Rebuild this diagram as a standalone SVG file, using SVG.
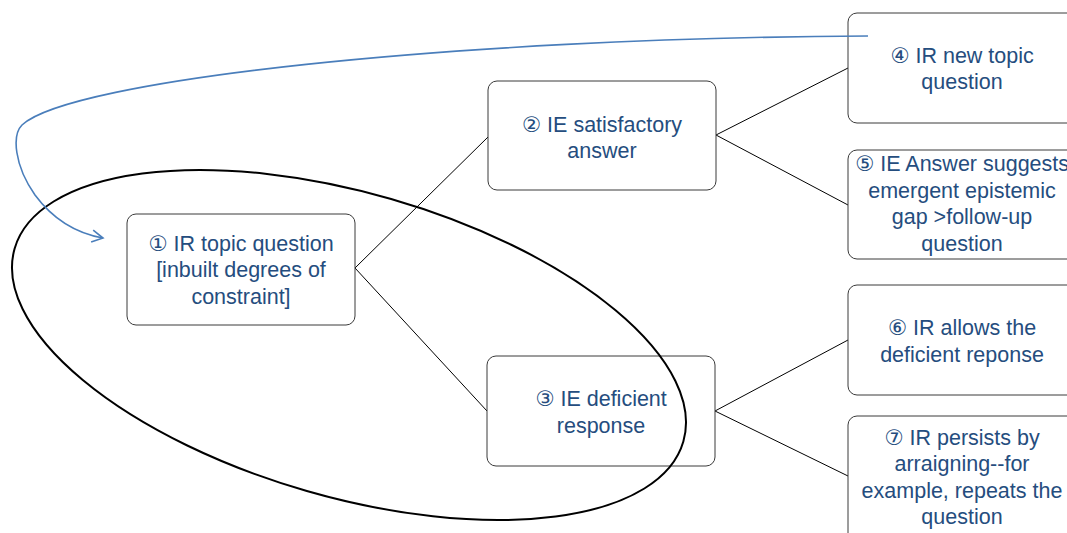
<svg xmlns="http://www.w3.org/2000/svg" width="1067" height="533" viewBox="0 0 1067 533">
<style>
.box{fill:#fff;stroke:#3a3a3a;stroke-width:1}
.t{font-family:"Liberation Sans","DejaVu Sans",sans-serif;font-size:21.5px;fill:#254d7e;text-anchor:middle}
.c{stroke:#000;stroke-width:1;fill:none}
</style>
<defs>
<marker id="open" markerWidth="14" markerHeight="14" refX="12" refY="7" orient="auto" markerUnits="userSpaceOnUse">
<path d="M1,1 L12,7 L1,13" fill="none" stroke="#4a7ebb" stroke-width="1.6"/>
</marker>
</defs>
<rect width="1067" height="533" fill="#fff"/>
<g id="connectors">
<line class="c" x1="355" y1="268" x2="488" y2="137"/>
<line class="c" x1="355" y1="268" x2="487" y2="411"/>
<line class="c" x1="716" y1="135" x2="848" y2="68"/>
<line class="c" x1="716" y1="135" x2="848" y2="205"/>
<line class="c" x1="715" y1="411" x2="848" y2="340"/>
<line class="c" x1="715" y1="411" x2="848" y2="476"/>
</g>
<g id="n1"><rect class="box" x="127" y="214" width="228" height="111" rx="9"/>
<text class="t"><tspan x="241" y="251">① IR topic question</tspan><tspan x="241" y="277">[inbuilt degrees of</tspan><tspan x="241" y="304">constraint]</tspan></text></g>
<g id="n2"><rect class="box" x="488" y="81" width="228" height="109" rx="9"/>
<text class="t"><tspan x="602" y="132">② IE satisfactory</tspan><tspan x="602" y="158">answer</tspan></text></g>
<g id="n3"><rect class="box" x="487" y="356" width="228" height="110" rx="9"/>
<text class="t"><tspan x="601" y="406">③ IE deficient</tspan><tspan x="601" y="433">response</tspan></text></g>
<g id="n4"><rect class="box" x="848" y="13" width="228" height="110" rx="9"/>
<text class="t"><tspan x="962" y="63">④ IR new topic</tspan><tspan x="962" y="89">question</tspan></text></g>
<g id="n5"><rect class="box" x="848" y="150" width="228" height="109" rx="9"/>
<text class="t"><tspan x="962" y="171">⑤ IE Answer suggests</tspan><tspan x="962" y="198">emergent epistemic</tspan><tspan x="962" y="224">gap &gt;follow-up</tspan><tspan x="962" y="251">question</tspan></text></g>
<g id="n6"><rect class="box" x="848" y="285" width="228" height="110" rx="9"/>
<text class="t"><tspan x="962" y="335">⑥ IR allows the</tspan><tspan x="962" y="362">deficient reponse</tspan></text></g>
<g id="n7"><rect class="box" x="848" y="416" width="228" height="130" rx="9"/>
<text class="t"><tspan x="962" y="445">⑦ IR persists by</tspan><tspan x="962" y="471">arraigning--for</tspan><tspan x="962" y="498">example, repeats the</tspan><tspan x="962" y="524">question</tspan></text></g>
<g id="ellipse">
<ellipse cx="349" cy="345" rx="348" ry="152" transform="rotate(16.1 349 345)" fill="none" stroke="#000" stroke-width="2"/>
</g>
<g id="loop">
<path d="M868,36 C 450,38 70,80 22,125 C 12,135 14,165 35,195 C 55,222 80,234 103,238" fill="none" stroke="#4a7ebb" stroke-width="1.6" marker-end="url(#open)"/>
</g>
</svg>
